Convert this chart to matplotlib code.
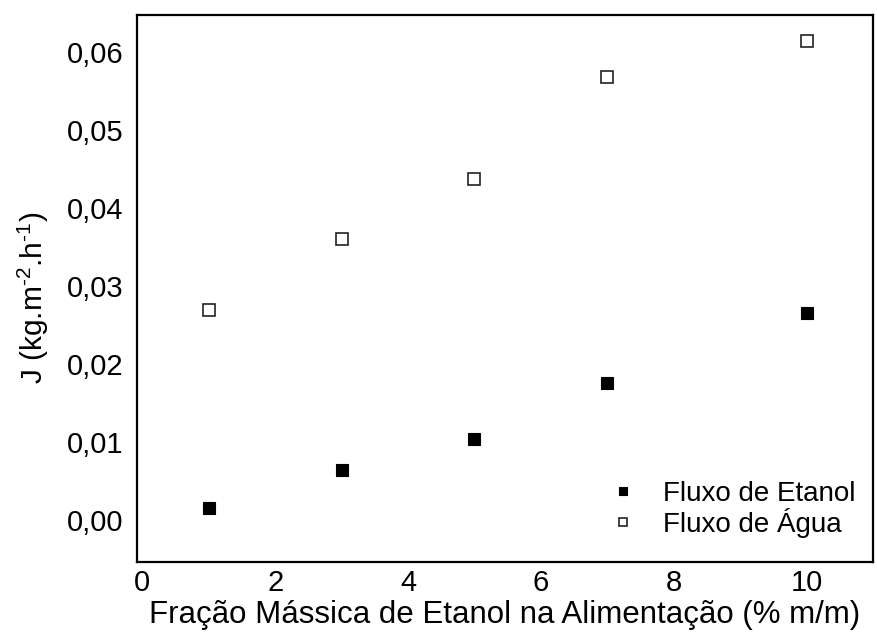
import matplotlib
matplotlib.use("Agg")
import matplotlib.pyplot as plt
from matplotlib.ticker import FuncFormatter

plt.rcParams['font.family'] = ['Liberation Sans', 'DejaVu Sans']
plt.rcParams['mathtext.fontset'] = 'custom'
plt.rcParams['mathtext.rm'] = 'Liberation Sans'
plt.rcParams['axes.unicode_minus'] = False

x_vals = [1, 3, 5, 7, 10]
etanol = [0.0015, 0.0064, 0.0104, 0.0176, 0.0265]
agua = [0.0269, 0.0360, 0.0437, 0.0567, 0.0614]
x_ticks = [0, 2, 4, 6, 8, 10]
y_ticks = [0.00, 0.01, 0.02, 0.03, 0.04, 0.05, 0.06]

fig = plt.figure(figsize=(8.78, 6.37), dpi=100)
ax = fig.add_axes([137/878, 1-562/637, (873-137)/878, (562-15)/637])

ax.plot(x_vals, etanol, linestyle='none', marker='s', markersize=8.2,
        markerfacecolor='black', markeredgecolor='black', markeredgewidth=0.8,
        label='Fluxo de Etanol')
ax.plot(x_vals, agua, linestyle='none', marker='s', markersize=8.2,
        markerfacecolor='white', markeredgecolor='#222222', markeredgewidth=1.2,
        label='Fluxo de Água')

ax.set_xlim(-0.08, 11.0)
ax.set_ylim(-0.0054, 0.0647)
ax.set_xticks(x_ticks)
ax.set_yticks(y_ticks)
ax.yaxis.set_major_formatter(FuncFormatter(lambda v, p: f"{v:.2f}".replace('.', ',')))
ax.tick_params(length=0, labelsize=21, colors='black')
ax.tick_params(axis='y', pad=10)
ax.tick_params(axis='x', pad=5)
for s in ax.spines.values():
    s.set_linewidth(1.6)
    s.set_color('black')

ax.set_xlabel('Fração Mássica de Etanol na Alimentação (% m/m)', fontsize=22.5, labelpad=2)
ax.set_ylabel(r'J (kg.m$^{\text{-2}}$.h$^{\text{-1}}$)', fontsize=21.5)
ax.yaxis.set_label_coords(-0.117, 0.483)

leg = ax.legend(loc='lower right', frameon=False, fontsize=20, markerscale=0.7,
                handlelength=1.0, handletextpad=0.95, labelspacing=0.02,
                borderaxespad=0.3, bbox_to_anchor=(1.003, 0.009))

fig.savefig('out.png', dpi=100)
